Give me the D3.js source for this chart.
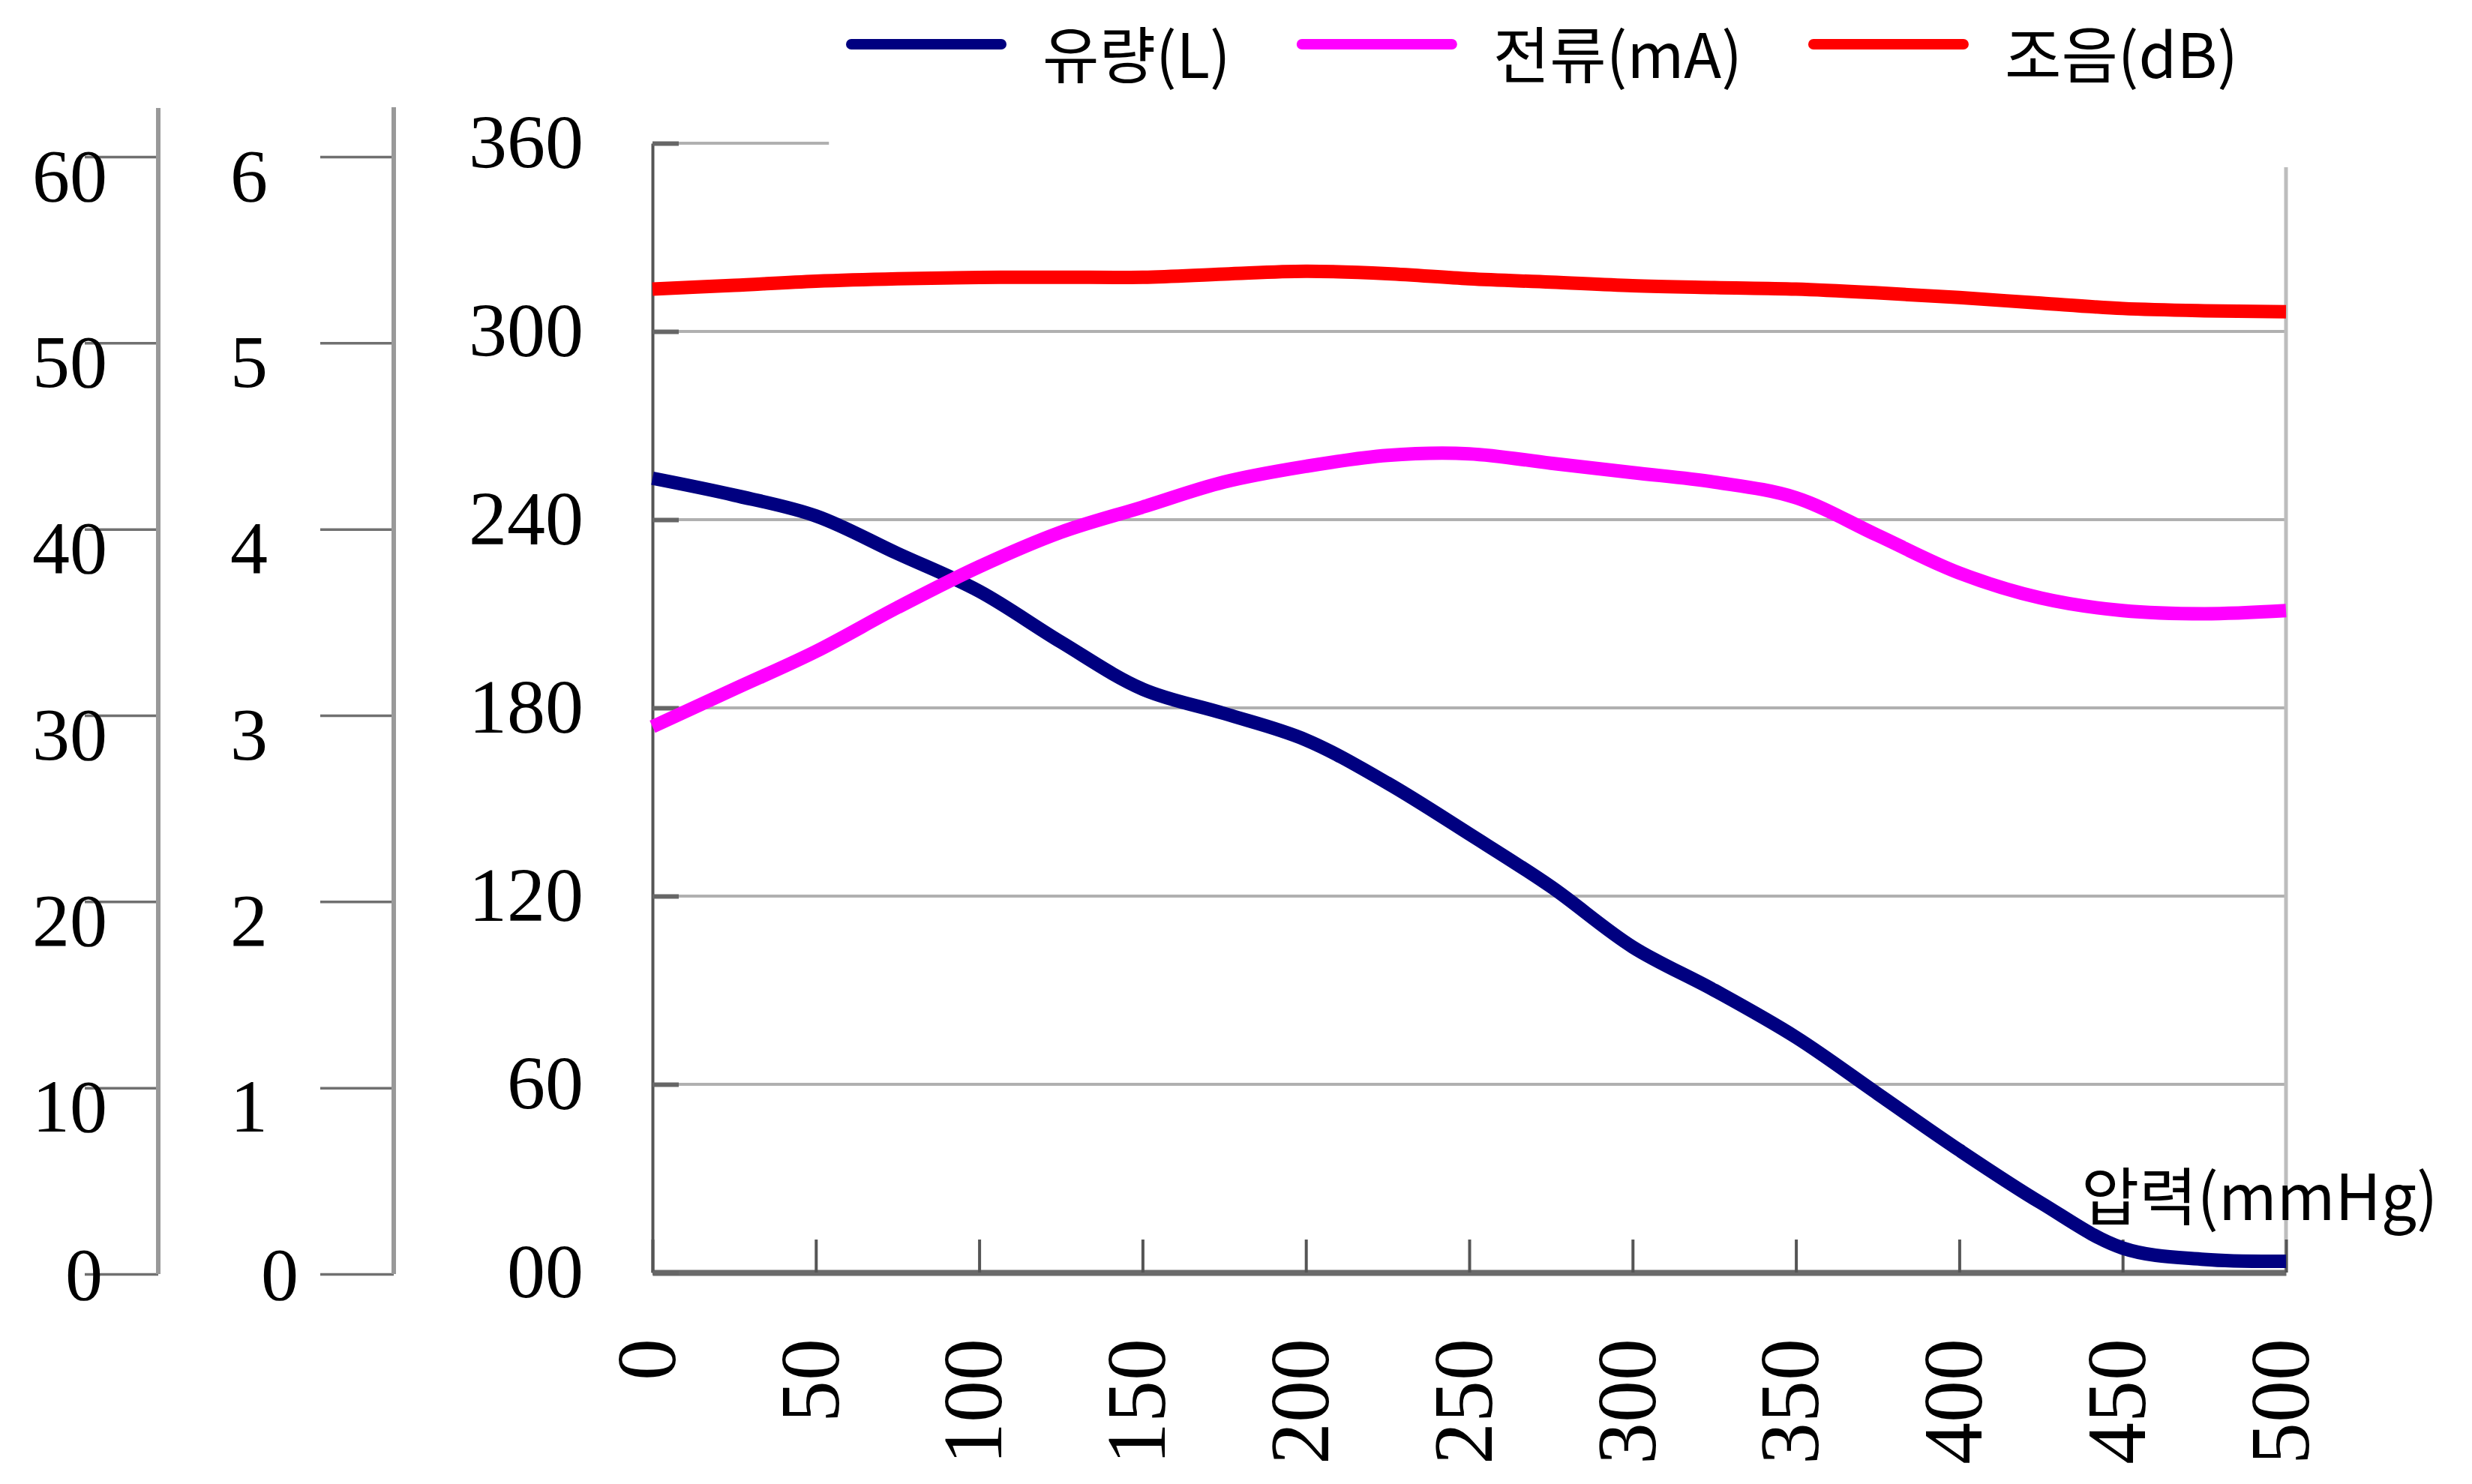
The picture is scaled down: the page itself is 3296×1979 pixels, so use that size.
<!DOCTYPE html>
<html>
<head>
<meta charset="utf-8">
<script src="https://cdn.jsdelivr.net/npm/d3@7"></script>
<style>
  body { margin:0; background:#fff; }
  svg { display:block; }
</style>
</head>
<body>
<div id="chart"></div>
<script>
// data (x = pressure mmHg)
var pressure = [0,25,50,75,100,125,150,175,200,225,250,275,300,325,350,375,400,425,450,475,500]
var flowL = [4.22,4.13,4.02,3.82,3.62,3.35,3.10,2.97,2.83,2.60,2.33,2.05,1.73,1.50,1.25,0.95,0.65,0.37,0.13,0.07,0.06]
var currentMA = [174,186,198,212,225,236,244,252,257,260.5,261,258,255,252,247,235,223,215,211,210,211]
var noiseDB = [52.25,52.45,52.67,52.8,52.87,52.88,52.88,53.05,53.2,53.07,52.8,52.62,52.43,52.33,52.25,52.05,51.8,51.5,51.22,51.1,51.05]

var xTicks = [0,50,100,150,200,250,300,350,400,450,500]
var mainTicks = [0,60,120,180,240,300,360]
var mainTickLabels = ["00","60","120","180","240","300","360"]
var flowTicks = [0,1,2,3,4,5,6]
var noiseTicks = [0,10,20,30,40,50,60]

var seriesNames = ["유량(L)","전류(mA)","조음(dB)"]
var seriesColors = ["#000080","#ff00ff","#ff0000"]
var xTitle = "압력(mmHg)"

//sizes
var W = 3296, H = 1979
var serif = "'Liberation Serif', 'Times New Roman', serif"
var sans = "'Noto Sans CJK KR', 'Noto Sans', sans-serif"

var svg = d3.select("#chart").append("svg")
  .attr("width", W).attr("height", H)
svg.append("rect").attr("width", W).attr("height", H).style("fill", "#fff")

//scales
var x = d3.scaleLinear().domain([0,500]).range([870,3048])
var yMain = d3.scaleLinear().domain([0,360]).range([1697,191])
var yFlow = d3.scaleLinear().domain([0,6]).range([1697,191])
var yNoise = d3.scaleLinear().domain([0,60]).range([1697,191])
// the two extra axes on the left sit a bit lower than the main one
var yLeft6 = d3.scaleLinear().domain([0,6]).range([1699,209])
var yLeft60 = d3.scaleLinear().domain([0,60]).range([1699,209])

//gridlines
var grid = svg.append("g")
grid.selectAll("line.g")
  .data(mainTicks.filter(function(d){ return d>0 && d<360 })).enter()
  .append("line")
  .attr("x1", x(0)).attr("x2", x(500))
  .attr("y1", function(d){ return yMain(d) }).attr("y2", function(d){ return yMain(d) })
  .style("stroke", "#b0b0b0").style("stroke-width", 4)
// short top line at 360
grid.append("line")
  .attr("x1", x(0)).attr("x2", x(54))
  .attr("y1", yMain(360)).attr("y2", yMain(360))
  .style("stroke", "#b0b0b0").style("stroke-width", 4)
// right border
grid.append("line")
  .attr("x1", x(500)).attr("x2", x(500))
  .attr("y1", 223).attr("y2", yMain(0))
  .style("stroke", "#bdbdbd").style("stroke-width", 5)

//bottom axis
var xAxis = d3.axisBottom(x).tickValues(xTicks).tickSize(-44).tickSizeOuter(0)
var gx = svg.append("g").attr("transform", "translate(0," + yMain(0) + ")").call(xAxis)
gx.select(".domain").style("stroke", "#6a6a6a").style("stroke-width", 8)
gx.selectAll(".tick line").style("stroke", "#555").style("stroke-width", 4)
gx.selectAll(".tick text")
  .attr("transform", "rotate(-90)")
  .attr("x", -88).attr("y", -10).attr("dy", "0.35em")
  .attr("text-anchor", "end")
  .style("font-family", serif).style("font-size", "112px").style("fill", "#000")

//main left axis
var yAxis = d3.axisLeft(yMain).tickValues(mainTicks)
  .tickFormat(function(d, i){ return mainTickLabels[i] })
  .tickSize(-35).tickSizeOuter(0).tickPadding(92)
var gy = svg.append("g").attr("transform", "translate(" + x(0) + ",0)").call(yAxis)
gy.select(".domain").style("stroke", "#555").style("stroke-width", 4)
gy.selectAll(".tick line").style("stroke", "#666").style("stroke-width", 6)
gy.selectAll(".tick text")
  .style("font-family", serif).style("font-size", "102px").style("fill", "#000")

//extra left axes
function sideAxis(scale, ticks, axisX, top, labelRight, zeroRight){
  var ax = d3.axisLeft(scale).tickValues(ticks).tickFormat(d3.format("d"))
    .tickSize(98).tickSizeOuter(0)
    .tickPadding(labelRight - 98)
  var g = svg.append("g").attr("transform", "translate(" + axisX + ",0)").call(ax)
  g.select(".domain").remove()
  g.append("line")
    .attr("x1", 0).attr("x2", 0).attr("y1", top).attr("y2", scale(0))
    .style("stroke", "#999").style("stroke-width", 6)
  g.selectAll(".tick line").style("stroke", "#707070").style("stroke-width", 3.5)
  g.selectAll(".tick text")
    .attr("dy", function(d){ return d==0 ? "0.33em" : "0.58em" })
    .attr("x", function(d){ return d==0 ? -zeroRight : -labelRight })
    .style("font-family", serif).style("font-size", "100px").style("fill", "#000")
  return g
}
sideAxis(yLeft60, noiseTicks, 211, 144, 68, 74)
sideAxis(yLeft6, flowTicks, 525, 143, 168, 127)

//lines
var curve = d3.curveCatmullRom.alpha(0.5)
var lineFlow = d3.line().curve(curve)
  .x(function(d, i){ return x(pressure[i]) }).y(function(d){ return yFlow(d) })
var lineCur = d3.line().curve(curve)
  .x(function(d, i){ return x(pressure[i]) }).y(function(d){ return yMain(d) })
var lineNoise = d3.line().curve(curve)
  .x(function(d, i){ return x(pressure[i]) }).y(function(d){ return yNoise(d) })

var lines = svg.append("g").style("fill", "none").style("stroke-width", 18)
lines.append("path").attr("d", lineFlow(flowL)).style("stroke", seriesColors[0])
lines.append("path").attr("d", lineCur(currentMA)).style("stroke", seriesColors[1])
lines.append("path").attr("d", lineNoise(noiseDB)).style("stroke", seriesColors[2])

//x title
svg.append("text")
  .attr("x", 2775).attr("y", 1590)
  .attr("dominant-baseline", "central")
  .style("font-family", sans).style("font-size", "84px").style("fill", "#000")
  .text(xTitle)

//legend
var lx = 1135
var legend = svg.append("g")
seriesNames.forEach(function(name, i){
  legend.append("line")
    .attr("x1", lx).attr("x2", lx + 200).attr("y1", 59).attr("y2", 59)
    .style("stroke", seriesColors[i]).style("stroke-width", 14).style("stroke-linecap", "round")
  var t = legend.append("text")
    .attr("x", lx + 255).attr("y", 68)
    .attr("dominant-baseline", "central")
    .style("font-family", sans).style("font-size", "82px").style("fill", "#000")
    .text(name)
  lx = lx + 255 + t.node().getComputedTextLength() + 95
})
</script>
</body>
</html>
